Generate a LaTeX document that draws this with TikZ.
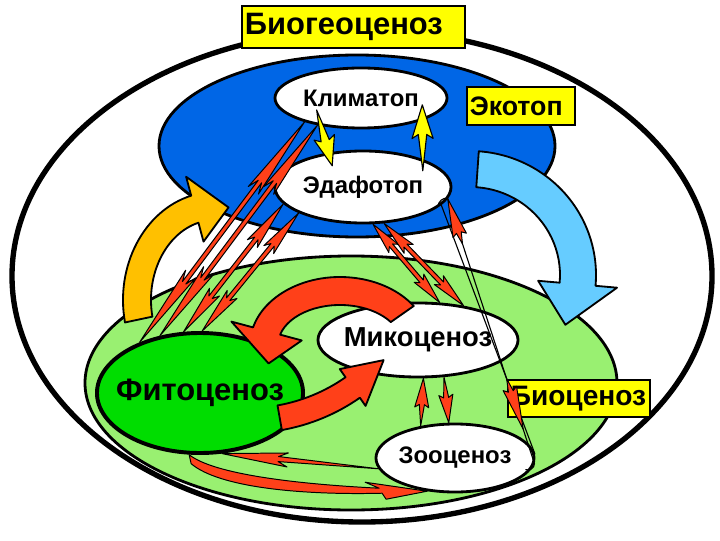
\documentclass[tikz,border=0pt]{standalone}
\usepackage{fontspec}
\setmainfont{Liberation Sans}
\usepackage{tikz}
\usetikzlibrary{calc,shapes.geometric}
\definecolor{tagyellow}{HTML}{FFFF00}
\definecolor{ecoblue}{HTML}{0066E6}
\definecolor{skyarrow}{HTML}{66CCFF}
\definecolor{amber}{HTML}{FFC000}
\definecolor{bioband}{HTML}{99F071}
\definecolor{plantgreen}{HTML}{00DD00}
\definecolor{redflow}{HTML}{FF4019}
\tikzset{
  spike wing/.store in=\spikewing, spike join/.store in=\spikejoin,
  spike wing=5pt, spike join=1.8pt,
  ecozone/.style={draw, line width=2pt},
  tagbox/.style={draw, fill=tagyellow, line width=1.5pt, inner xsep=2pt, inner ysep=0pt, align=left,
    font=\bfseries\fontsize{20}{24}\selectfont},
  cenosis/.style={ellipse, draw, fill=white, line width=2pt, inner xsep=-12pt, inner ysep=0pt,
    font=\bfseries\fontsize{17}{20}\selectfont},
  blockarrow/.style={draw, line width=1.3pt, line join=round},
  redspike/.style={draw, fill=redflow, line width=0.7pt, line join=round},
  yellowspike/.style={draw, fill=tagyellow, line width=0.8pt, line join=round, spike wing=7.5pt, spike join=3pt},
  thinwire/.style={line width=0.8pt}
}
% curved block arrow: style, centre, start, head base, tip, inner radii, width, head spread
\newcommand{\bendarrow}[9]{%
  \pgfmathsetmacro{\barox}{#6+#8}\pgfmathsetmacro{\baroy}{#7+#8}%
  \pgfmathsetmacro{\bawox}{#6+(1+#9)*#8}\pgfmathsetmacro{\bawoy}{#7+(1+#9)*#8}%
  \pgfmathsetmacro{\bawix}{#6-#9*#8}\pgfmathsetmacro{\bawiy}{#7-#9*#8}%
  \pgfmathsetmacro{\bamx}{#6+0.5*#8}\pgfmathsetmacro{\bamy}{#7+0.5*#8}%
  \filldraw[#1] ($(#2)+(#3:{\barox} and {\baroy})$)
    arc[start angle=#3, end angle=#4, x radius=\barox, y radius=\baroy]
    -- ($(#2)+(#4:{\bawox} and {\bawoy})$) -- ($(#2)+(#5:{\bamx} and {\bamy})$)
    -- ($(#2)+(#4:{\bawix} and {\bawiy})$) -- ($(#2)+(#4:{#6} and {#7})$)
    arc[start angle=#4, end angle=#3, x radius=#6, y radius=#7] -- cycle;}
% thin arrow with a head at both ends
\newcommand{\spike}[3][redspike]{%
  \filldraw[#1] (#2)
    -- ($(#2)!0.31!(#3)!4.5pt!90:(#3)$) -- ($(#2)!0.27!(#3)!1.5pt!90:(#3)$)
    -- ($(#3)!0.27!(#2)!1.5pt!-90:(#2)$) -- ($(#3)!0.31!(#2)!4.5pt!-90:(#2)$)
    -- (#3)
    -- ($(#3)!0.31!(#2)!4.5pt!90:(#2)$) -- ($(#3)!0.27!(#2)!1.5pt!90:(#2)$)
    -- ($(#2)!0.27!(#3)!1.5pt!-90:(#3)$) -- ($(#2)!0.31!(#3)!4.5pt!-90:(#3)$)
    -- cycle;}
% thin arrow with one head, tip at the last point
\newcommand{\spikeone}[4][0.55]{%
  \pgfmathsetmacro{\spj}{#1}\pgfmathsetmacro{\spw}{#1+0.06}%
  \filldraw[#2] (#3)
    -- ($(#4)!\spj!(#3)!\spikejoin!-90:(#3)$) -- ($(#4)!\spw!(#3)!\spikewing!-90:(#3)$)
    -- (#4)
    -- ($(#4)!\spw!(#3)!\spikewing!90:(#3)$) -- ($(#4)!\spj!(#3)!\spikejoin!90:(#3)$)
    -- cycle;}

\begin{document}
\begin{tikzpicture}[x=0.025cm, y=0.025cm]
\useasboundingbox (0,0) rectangle (720,540);

% zones
\filldraw[fill=white, line width=3.8pt] (362,264) ellipse[x radius=350, y radius=246];
\filldraw[ecozone, fill=ecoblue] (357,394) ellipse[x radius=198, y radius=91];
\filldraw[ecozone, fill=bioband] (351,157) ellipse[x radius=266, y radius=127];

% components
\node[cenosis, minimum width=4.3cm, minimum height=1.5cm] (klim) at (361,442) {Климатоп};
\node[cenosis, minimum width=4.4cm, minimum height=1.8cm] (edaf) at (363,353) {Эдафотоп};
\node[cenosis, fill=plantgreen, line width=2.8pt, minimum width=5.15cm, minimum height=3cm, inner xsep=-20pt, font=\bfseries\fontsize{22}{26}\selectfont] (fito) at (200,147) {Фитоценоз};
\node[cenosis, minimum width=5cm, minimum height=1.85cm, font=\bfseries\fontsize{19.5}{23}\selectfont] (mik) at (418,200) {Микоценоз};
\node[cenosis, minimum width=3.95cm, minimum height=1.7cm] (zoo) at (455,82) {Зооценоз};

% titles
\node[tagbox, text width=5.43cm, minimum height=1.05cm, font=\bfseries\fontsize{22}{26}\selectfont] (biogeo) at (353.5,513) {Биогеоценоз};
\node[tagbox, text width=2.56cm, minimum height=0.95cm, font=\bfseries\fontsize{19}{23}\selectfont] (ekotop) at (521,434) {Экотоп};
\node[tagbox, text width=3.41cm, minimum height=0.925cm] (biocen) at (579,141.5) {Биоценоз};

% big flows
\coordinate (ambc) at (215,240);
\coordinate (skyc) at (470,265);
\coordinate (loopc) at (340,195);
\coordinate (risec) at (248,302);
\bendarrow{blockarrow, fill=amber}{ambc}{192}{105}{80}{64}{80}{28}{0.7}
\bendarrow{blockarrow, fill=skyarrow}{skyc}{86}{-5}{-28}{90}{88}{36}{0.6}
\bendarrow{blockarrow, fill=redflow}{loopc}{35}{165}{200}{62}{40}{28}{0.8}
\bendarrow{blockarrow, fill=redflow}{risec}{-80}{-55}{-42}{170}{170}{25}{0.4}

% climate and soil <-> plants
\spike{klim.203}{fito.140}
\spike{klim.212}{fito.125}
\spike{edaf.192}{fito.105}
\spike{edaf.202}{fito.88}
% soil <-> fungi
\spike{edaf.285}{mik.60}
\spike{edaf.300}{mik.37}

% climate <-> soil
\coordinate (rainA) at ($(klim.215)!-0.6!(edaf.135)$);
\coordinate (rainB) at ($(klim.215)!1.5!(edaf.135)$);
\coordinate (heatA) at ($(edaf.25)!-0.3!(klim.340)$);
\coordinate (heatB) at ($(edaf.25)!1.4!(klim.340)$);
\spikeone[0.45]{yellowspike}{rainA}{rainB}
\spikeone[0.45]{yellowspike}{heatA}{heatB}

% fungi <-> animals
\spikeone{redspike}{zoo.137}{mik.278}
\spikeone{redspike}{mik.305}{zoo.100}

% soil <-> animals
\draw[thinwire] ($(edaf.352)+(-10,-8)$) to[out=90, in=150] (edaf.352) -- (zoo.356)
  to[out=-85, in=-30] ($(zoo.356)+(-9,-6)$);
\draw[thinwire] (edaf.347) -- (zoo.3);
\coordinate (wireA) at ($(edaf.352)!0.17!(zoo.356)$);
\coordinate (wireB) at ($(edaf.352)!0.68!(zoo.356)$);
\coordinate (wireC) at ($(edaf.352)!0.87!(zoo.356)$);
\spikeone[0.75]{redspike}{wireA}{edaf.352}
\spikeone[0.75]{redspike}{wireB}{wireC}

% plants <-> animals
\spikeone[0.36]{redspike}{zoo.188}{fito.290}
\filldraw[redspike] (fito.260) .. controls ($(fito.260)+(25,-20)$) and ($(zoo.230)+(-128,7)$) .. ($(zoo.230)+(-48,3)$)
  -- ($(zoo.230)+(-62,9)$) -- (zoo.230) -- ($(zoo.230)+(-41,-8)$) -- ($(zoo.230)+(-45,-2)$)
  .. controls ($(zoo.230)+(-125,-4)$) and ($(fito.260)+(30,-33)$) .. ($(fito.260)+(2,-9)$) -- cycle;
\end{tikzpicture}
\end{document}
